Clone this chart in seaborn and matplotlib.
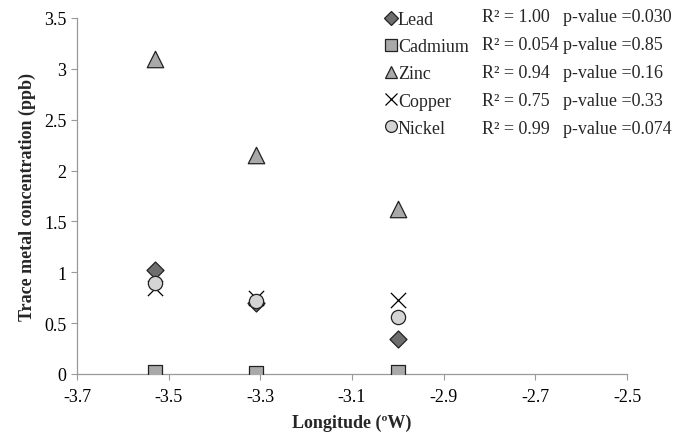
import pandas as pd
import matplotlib.pyplot as plt
import seaborn as sns
from matplotlib.lines import Line2D

sns.set_theme(style="white")
plt.rcParams['font.family'] = ['Liberation Serif', 'DejaVu Serif']

# data
longitude = [-3.53, -3.31, -3.00]
metals = ["Lead", "Cadmium", "Zinc", "Copper", "Nickel"]
lead = [1.02, 0.70, 0.34]
cadmium = [0.02, 0.01, 0.02]
zinc = [3.10, 2.15, 1.62]
copper = [0.85, 0.75, 0.73]
nickel = [0.89, 0.72, 0.56]
r2_labels = ["R² = 1.00", "R² = 0.054", "R² = 0.94", "R² = 0.75", "R² = 0.99"]
p_labels = ["p-value =0.030", "p-value =0.85", "p-value =0.16", "p-value =0.33", "p-value =0.074"]

series = [lead, cadmium, zinc, copper, nickel]
rows = []
for m, vals in zip(metals, series):
    for x, y in zip(longitude, vals):
        rows.append({"Longitude": x, "Conc": y, "Metal": m})
df = pd.DataFrame(rows)

colors = {"Lead": "#6e6e6e", "Cadmium": "#a9a9a9", "Zinc": "#a9a9a9",
          "Copper": "#000000", "Nickel": "#d4d4d4"}
markers = {"Lead": "D", "Cadmium": "s", "Zinc": "^", "Copper": "x", "Nickel": "o"}
sizes = {"Lead": 75, "Cadmium": 115, "Zinc": 140, "Copper": 120, "Nickel": 105}

fig = plt.figure(figsize=(6.86, 4.35), dpi=100)
ax = fig.add_axes([77 / 686, 1 - 375 / 435, 550 / 686, 356 / 435])

for m in metals:
    sub = df[df["Metal"] == m]
    ec = "black" if m == "Copper" else "#222222"
    sns.scatterplot(data=sub, x="Longitude", y="Conc", ax=ax,
                    marker=markers[m], s=sizes[m], color=colors[m],
                    edgecolor=ec, linewidth=0.9, legend=False, zorder=3)

ax.set_xlim(-3.7, -2.5)
ax.set_ylim(0, 3.5)
ax.set_xticks([-3.7, -3.5, -3.3, -3.1, -2.9, -2.7, -2.5])
ax.set_xticklabels(["-3.7", "-3.5", "-3.3", "-3.1", "-2.9", "-2.7", "-2.5"])
ax.set_yticks([0, 0.5, 1, 1.5, 2, 2.5, 3, 3.5])
ax.set_yticklabels(["0", "0.5", "1", "1.5", "2", "2.5", "3", "3.5"])
ax.tick_params(axis="both", direction="out", length=4, width=0.8,
               color="#999999", labelsize=13, labelcolor="black", left=True, bottom=True)
ax.tick_params(axis="x", pad=6)
for side in ["top", "right"]:
    ax.spines[side].set_visible(False)
for side in ["left", "bottom"]:
    ax.spines[side].set_color("#999999")
    ax.spines[side].set_linewidth(0.9)

ax.set_xlabel("Longitude (ºW)", fontsize=13, fontweight="bold", labelpad=6)
ax.set_ylabel("Trace metal concentration (ppb)", fontsize=13, fontweight="bold", labelpad=6)

handles = []
for m in metals:
    ec = "black" if m == "Copper" else "#222222"
    handles.append(Line2D([], [], linestyle="none", marker=markers[m],
                          markersize=8.5 if m != "Lead" else 7,
                          markerfacecolor=colors[m], markeredgecolor=ec,
                          markeredgewidth=0.9, color=colors[m]))
leg = fig.legend(handles, metals, loc="upper left", bbox_to_anchor=(378 / 686, 1 - 5 / 435),
                 frameon=False, fontsize=13, handlelength=0.6, handletextpad=0.1,
                 labelspacing=0.56, borderaxespad=0)

row_y = [17, 45, 73, 102, 130]
for ry, r2, pv in zip(row_y, r2_labels, p_labels):
    fig.text(482 / 686, 1 - ry / 435, r2, fontsize=13, va="center", ha="left")
    fig.text(563 / 686, 1 - ry / 435, pv, fontsize=13, va="center", ha="left")

fig.savefig("out.png", dpi=100)
